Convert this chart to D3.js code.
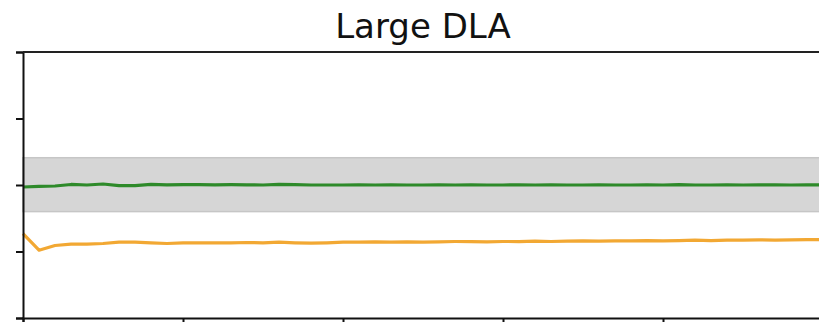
<!DOCTYPE html>
<html>
<head>
<meta charset="utf-8">
<script src="https://cdn.jsdelivr.net/npm/d3@7"></script>
<style>
  html, body { margin: 0; padding: 0; background: #fff; overflow: hidden; }
  svg { display: block; }
</style>
</head>
<body>
<svg id="chart" width="819" height="322"></svg>
<script>
// Iteration index for both series
const steps = d3.range(0, 51);

// Tracked quantity (green) and its running estimate (orange)
const greenValues = [
  1.970, 1.978, 1.985, 2.008, 2.000, 2.015, 1.990, 1.990, 2.008, 2.002,
  2.005, 2.005, 2.003, 2.005, 2.003, 2.000, 2.008, 2.005, 2.000, 2.000,
  2.000, 2.003, 2.000, 2.002, 2.000, 2.000, 2.003, 2.000, 2.002, 2.000,
  2.000, 2.003, 2.000, 2.002, 2.000, 2.000, 2.003, 2.000, 2.000, 2.003,
  2.000, 2.005, 2.000, 2.000, 2.003, 2.000, 2.002, 2.003, 2.000, 2.003, 2.002
];
const orangeValues = [
  1.270, 1.020, 1.090, 1.110, 1.110, 1.120, 1.140, 1.140, 1.130, 1.120,
  1.130, 1.130, 1.130, 1.130, 1.135, 1.130, 1.140, 1.130, 1.125, 1.130,
  1.140, 1.140, 1.145, 1.140, 1.145, 1.140, 1.145, 1.150, 1.150, 1.145,
  1.150, 1.150, 1.155, 1.150, 1.155, 1.160, 1.155, 1.160, 1.160, 1.165,
  1.160, 1.165, 1.170, 1.165, 1.170, 1.170, 1.175, 1.170, 1.175, 1.180, 1.180
];

// Reference interval shown as a shaded band
const bandRange = [1.60, 2.41];

const xTicks = [0, 10, 20, 30, 40, 50];
const yTicks = [0, 1, 2, 3, 4];

const margin = { top: 52, left: 23 };
const plotW = 800, plotH = 266;

const svg = d3.select("#chart");

const x = d3.scaleLinear().domain([0, 50]).range([margin.left, margin.left + plotW]);
const y = d3.scaleLinear().domain([0, 4]).range([margin.top + plotH, margin.top]);

// Title
svg.append("text")
  .attr("x", margin.left + plotW / 2)
  .attr("y", 38)
  .attr("text-anchor", "middle")
  .attr("font-family", "DejaVu Sans, sans-serif")
  .attr("font-size", 34)
  .attr("fill", "#111")
  .text("Large DLA");

// Shaded band
svg.append("rect")
  .attr("x", x(0))
  .attr("width", x(50) - x(0))
  .attr("y", y(bandRange[1]))
  .attr("height", y(bandRange[0]) - y(bandRange[1]))
  .attr("fill", "#d6d6d6")
  .attr("stroke", "#c6c6c6")
  .attr("stroke-width", 1.5);

const line = d3.line()
  .x((d, i) => x(steps[i]))
  .y(d => y(d));

svg.append("path")
  .datum(orangeValues)
  .attr("d", line)
  .attr("fill", "none")
  .attr("stroke", "#f2a833")
  .attr("stroke-width", 3.2)
  .attr("stroke-linejoin", "round");

svg.append("path")
  .datum(greenValues)
  .attr("d", line)
  .attr("fill", "none")
  .attr("stroke", "#2e8a2a")
  .attr("stroke-width", 3.2)
  .attr("stroke-linejoin", "round");

// Axes
const yAxis = d3.axisLeft(y).tickValues(yTicks).tickSize(7).tickFormat("");
const xAxis = d3.axisBottom(x).tickValues(xTicks).tickSize(7).tickFormat("");

const gy = svg.append("g")
  .attr("transform", `translate(${margin.left},0)`)
  .call(yAxis);
const gx = svg.append("g")
  .attr("transform", `translate(0,${margin.top + plotH})`)
  .call(xAxis);

[gx, gy].forEach(g => {
  g.select(".domain").attr("stroke", "#111").attr("stroke-width", 2);
  g.selectAll(".tick line").attr("stroke", "#111").attr("stroke-width", 2);
});

// Top spine
svg.append("line")
  .attr("x1", x(0)).attr("x2", x(50))
  .attr("y1", y(4)).attr("y2", y(4))
  .attr("stroke", "#222")
  .attr("stroke-width", 2);
</script>
</body>
</html>
